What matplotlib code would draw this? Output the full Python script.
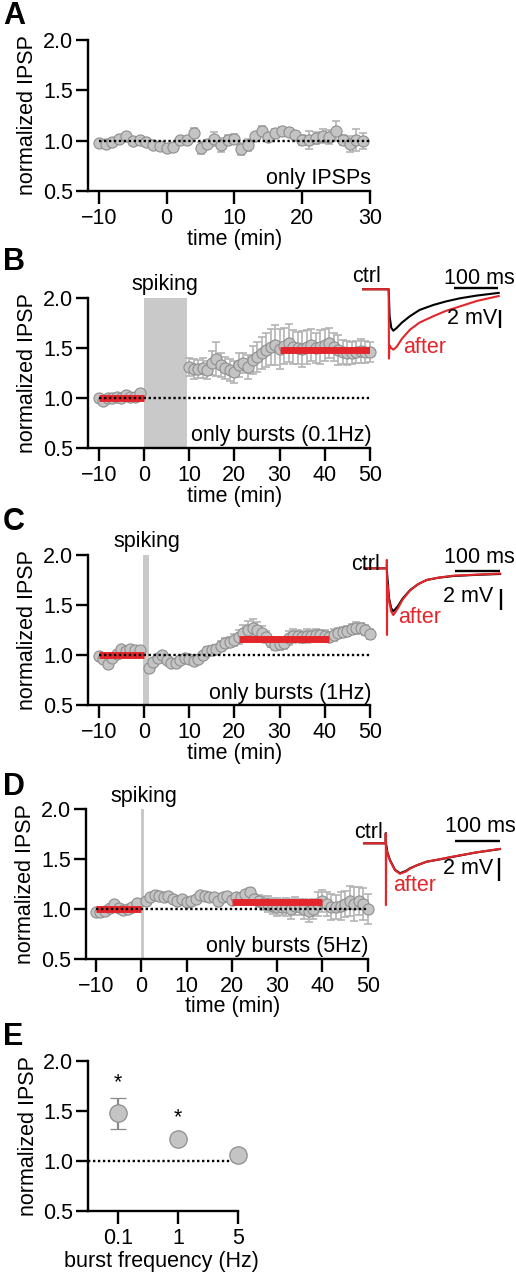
import numpy as np
import matplotlib
matplotlib.use("Agg")
import matplotlib.pyplot as plt
from matplotlib.ticker import FormatStrFormatter

plt.rcParams.update({
    'font.family': ['Liberation Sans', 'DejaVu Sans'],
    'font.size': 15.5,
    'axes.linewidth': 1.7,
    'xtick.major.width': 1.7,
    'ytick.major.width': 1.7,
    'xtick.major.size': 9.5,
    'ytick.major.size': 9,
    'xtick.major.pad': 3,
    'ytick.major.pad': 1.5,
})

# ---------------- data ----------------
# A: only IPSPs
A_TIME = np.arange(-10, 30)
A_MEAN = [0.98, 0.97, 0.99, 1.02, 1.05, 1.00, 1.01, 0.99, 0.96, 0.95,
          0.93, 0.94, 1.01, 1.01, 1.08, 0.93, 0.97, 1.02, 0.96, 1.01,
          1.02, 0.92, 0.96, 1.05, 1.10, 1.04, 1.08, 1.10, 1.09, 1.06,
          1.01, 1.01, 1.03, 1.05, 1.04, 1.10, 1.01, 0.97, 1.01, 1.00]
A_SEM = [0.01, 0.03, 0.02, 0.02, 0.02, 0.02, 0.02, 0.02, 0.03, 0.02,
         0.02, 0.02, 0.02, 0.03, 0.05, 0.06, 0.04, 0.07, 0.07, 0.05,
         0.05, 0.06, 0.06, 0.03, 0.05, 0.03, 0.04, 0.04, 0.04, 0.03,
         0.05, 0.09, 0.06, 0.07, 0.07, 0.10, 0.05, 0.08, 0.11, 0.08]

PRE_TIME = np.arange(-10, 0)

# B: bursts 0.1 Hz
B_PRE = [1.00, 0.97, 1.00, 1.00, 1.01, 1.00, 1.03, 1.01, 1.01, 1.05]
B_POST_TIME = np.arange(10, 51)
B_POST = [1.31, 1.29, 1.29, 1.30, 1.28, 1.35, 1.39, 1.33, 1.30, 1.28,
          1.26, 1.33, 1.35, 1.31, 1.38, 1.41, 1.45, 1.48, 1.51, 1.53,
          1.49, 1.52, 1.55, 1.51, 1.50, 1.49, 1.51, 1.53, 1.50, 1.51,
          1.53, 1.55, 1.51, 1.48, 1.46, 1.45, 1.45, 1.46, 1.47, 1.46, 1.46]
B_POST_SEM = [0.09, 0.10, 0.09, 0.10, 0.09, 0.12, 0.17, 0.12, 0.11, 0.11,
              0.11, 0.12, 0.10, 0.12, 0.14, 0.15, 0.16, 0.17, 0.18, 0.20,
              0.20, 0.18, 0.19, 0.17, 0.16, 0.18, 0.17, 0.16, 0.15, 0.17,
              0.16, 0.15, 0.14, 0.15, 0.12, 0.12, 0.11, 0.11, 0.12, 0.11, 0.10]
B_SPIKING = (0, 9.5)
B_MEANS = [(-10, 0, 1.0), (30, 50, 1.48)]

# C: bursts 1 Hz
C_PRE = [0.99, 0.96, 0.91, 0.97, 1.01, 1.06, 1.04, 1.06, 1.05, 1.05]
C_POST_TIME = np.arange(1, 51)
C_POST = [0.87, 0.93, 0.97, 1.00, 0.95, 0.92, 0.92, 0.95, 0.97, 0.96,
          0.94, 0.96, 1.00, 1.04, 1.05, 1.06, 1.09, 1.12, 1.13, 1.15,
          1.18, 1.22, 1.25, 1.27, 1.25, 1.22, 1.18, 1.13, 1.10, 1.11,
          1.12, 1.17, 1.19, 1.19, 1.18, 1.19, 1.19, 1.20, 1.20, 1.19,
          1.18, 1.20, 1.22, 1.23, 1.24, 1.26, 1.27, 1.27, 1.25, 1.21]
C_POST_SEM = [0.03, 0.03, 0.03, 0.03, 0.03, 0.03, 0.03, 0.03, 0.03, 0.03,
              0.03, 0.03, 0.03, 0.04, 0.04, 0.04, 0.05, 0.05, 0.05, 0.06,
              0.07, 0.08, 0.09, 0.09, 0.08, 0.07, 0.06, 0.05, 0.05, 0.06,
              0.06, 0.07, 0.07, 0.06, 0.06, 0.07, 0.06, 0.06, 0.05, 0.06,
              0.05, 0.06, 0.05, 0.05, 0.05, 0.05, 0.06, 0.05, 0.05, 0.05]
C_SPIKING = (-0.3, 1.1)
C_MEANS = [(-10, 0, 1.0), (21, 41, 1.16)]

# D: bursts 5 Hz
D_PRE = [0.97, 0.97, 0.98, 1.01, 1.05, 1.01, 0.99, 1.00, 1.02, 1.06]
D_POST_TIME = np.arange(1, 51)
D_POST = [1.08, 1.12, 1.14, 1.13, 1.12, 1.13, 1.10, 1.08, 1.10, 1.07,
          1.08, 1.10, 1.14, 1.13, 1.12, 1.12, 1.08, 1.12, 1.13, 1.09,
          1.12, 1.12, 1.15, 1.17, 1.10, 1.08, 1.06, 1.05, 1.03, 1.02,
          1.02, 1.02, 1.00, 1.03, 1.02, 1.00, 0.98, 1.00, 1.05, 1.08,
          1.05, 1.02, 1.02, 1.03, 1.05, 1.08, 1.05, 1.08, 1.05, 1.00]
D_POST_SEM = [0.02, 0.02, 0.02, 0.02, 0.02, 0.02, 0.02, 0.02, 0.02, 0.02,
              0.02, 0.02, 0.02, 0.02, 0.02, 0.02, 0.02, 0.02, 0.02, 0.03,
              0.03, 0.03, 0.03, 0.04, 0.05, 0.06, 0.07, 0.08, 0.08, 0.09,
              0.08, 0.09, 0.10, 0.09, 0.08, 0.10, 0.11, 0.10, 0.12, 0.11,
              0.12, 0.13, 0.12, 0.14, 0.13, 0.15, 0.17, 0.14, 0.16, 0.15]
D_SPIKING = (-0.15, 0.6)
D_MEANS = [(-10, 0, 1.0), (20, 40, 1.065)]

PRE_SEM = [0.02] * 10

# E: summary
E_FREQ = ['0.1', '1', '5']
E_MEAN = [1.48, 1.22, 1.06]
E_SEM = [0.155, 0.03, 0.02]
E_STARS = [(0, 1.78), (1, 1.43)]

# example traces (ms, mV)
B_CTRL_T = [-58, 0, 2, 6, 10.5, 18, 30, 48, 70, 101, 130, 162, 200, 250]
B_CTRL_V = [0, 0, -3.0, -4.3, -4.6, -4.3, -3.7, -3.0, -2.3, -1.75, -1.35, -1.0, -0.7, -0.4]
B_AFTER_T = [-58, 0, 0.6, 1.5, 5, 10.5, 18, 30, 48, 70, 101, 130, 162, 200, 250]
B_AFTER_V = [0, 0, -7.7, -6.2, -6.5, -6.7, -6.4, -5.5, -4.5, -3.7, -3.0, -2.4, -1.9, -1.3, -0.75]

C_CTRL_T = [-50, 0, 5, 10, 14.7, 25, 35, 52, 70, 89, 115, 148, 200, 252]
C_CTRL_V = [0, 0, -2.8, -3.8, -4.1, -3.6, -2.9, -2.07, -1.5, -1.11, -0.9, -0.73, -0.62, -0.54]
C_AFTER_T = [-50, 0, 0.3, 0.6, 1.2, 5, 10, 14.7, 25, 35, 52, 70, 89, 115, 148, 200, 252]
C_AFTER_V = [0, 0, 0.8, -6.35, -1.5, -3.0, -4.1, -4.45, -3.8, -3.0, -2.1, -1.5, -1.1, -0.88, -0.7, -0.6, -0.5]

D_CTRL_T = [-48, 0, 0.3, 0.6, 4, 9.5, 20.7, 31.8, 45, 54, 70, 91, 120, 150, 200, 254]
D_CTRL_V = [0, 0, 0.9, 0, -0.8, -1.45, -2.3, -2.6, -2.4, -2.17, -1.9, -1.6, -1.4, -1.17, -0.8, -0.5]
D_AFTER_T = [-48, 0, 0.3, 0.6, 1.2, 4, 9.5, 20.7, 31.8, 45, 54, 70, 91, 120, 150, 200, 254]
D_AFTER_V = [0, 0, 0.87, -5.37, -0.5, -0.9, -1.5, -2.35, -2.65, -2.45, -2.2, -1.9, -1.6, -1.38, -1.15, -0.8, -0.48]

# ---------------- style ----------------
W, H = 516, 1280
RED = '#e3262b'
FACE = '#c4c4c4'
EDGE = '#8e8e8e'
ERR = '#b4b4b4'
SPIKE = '#c9c9c9'


def px_axes(fig, x0, y0, x1, y1):
    return fig.add_axes([x0 / W, 1 - y1 / H, (x1 - x0) / W, (y1 - y0) / H])


def base_axes(ax):
    for s in ('top', 'right'):
        ax.spines[s].set_visible(False)
    ax.set_ylim(0.5, 2.0)
    ax.set_yticks([0.5, 1.0, 1.5, 2.0])
    ax.yaxis.set_major_formatter(FormatStrFormatter('%.1f'))
    ax.set_ylabel('normalized IPSP')


def timecourse(ax, segments, xlim, xticks, note, spiking=None, means=(), spike_x=None):
    base_axes(ax)
    ax.set_xlim(*xlim)
    ax.set_xticks(xticks)
    if spiking is not None:
        ax.axvspan(spiking[0], spiking[1], ymin=0, ymax=1, color=SPIKE, lw=0, zorder=1)
        ax.text(spike_x, 2.13, 'spiking', ha='center', va='center')
    for t, y, e in segments:
        ax.errorbar(t, y, yerr=e, fmt='none', ecolor=ERR, elinewidth=1.2,
                    capsize=2.8, capthick=1.2, zorder=2, clip_on=False)
        ax.plot(t, y, 'o', ms=8, mfc=FACE, mec=EDGE, mew=0.8, zorder=3, clip_on=False)
    for x0, x1, v in means:
        ax.plot([x0, x1], [v, v], color=RED, lw=5, solid_capstyle='butt', zorder=4)
    ax.plot([xticks[0], xticks[-1]], [1, 1], color='k', lw=1.7,
            ls=(0, (1, 1.1)), zorder=5)
    ax.text(xticks[-1] + (xlim[1] - xlim[0]) * 0.004, 0.62, note, ha='right', va='center')
    ax.set_xlabel('time (min)')
    ax.xaxis.set_label_coords(0.52, -0.25)
    ax.yaxis.set_label_coords(-0.176, 0.5)


def trace_inset(fig, box, xlim, ylim, ctrl, after, texts):
    ax = px_axes(fig, *box)
    ax.set_xlim(*xlim)
    ax.set_ylim(*ylim)
    ax.axis('off')
    ax.plot(ctrl[0], ctrl[1], color='k', lw=1.5, clip_on=False)
    ax.plot(after[0], after[1], color=RED, lw=1.5, clip_on=False)
    (ct, cv), (at, av), (st, sv), (bar_t, bar_v), (mv_t, mv_v), (mt, mv) = texts
    ax.text(ct, cv, 'ctrl', ha='center', va='center')
    ax.text(at, av, 'after', ha='left', va='center', color=RED)
    ax.text(st, sv, '100 ms', ha='center', va='center')
    ax.plot([bar_t, bar_t + 100], [bar_v, bar_v], color='k', lw=1.7,
            solid_capstyle='butt', clip_on=False)
    ax.plot([mv_t, mv_t], [mv_v, mv_v - 2], color='k', lw=1.7,
            solid_capstyle='butt', clip_on=False)
    ax.text(mt, mv, '2 mV', ha='right', va='center')


fig = plt.figure(figsize=(W / 100, H / 100), dpi=100)

# A
ax = px_axes(fig, 88, 40, 370, 191)
timecourse(ax, [(A_TIME, A_MEAN, A_SEM)], (-11.6, 30), [-10, 0, 10, 20, 30], 'only IPSPs')

# B
ax = px_axes(fig, 88, 297.7, 370, 448)
timecourse(ax, [(PRE_TIME, B_PRE, PRE_SEM), (B_POST_TIME, B_POST, B_POST_SEM)],
           (-12.4, 50), [-10, 0, 10, 20, 30, 40, 50], 'only bursts (0.1Hz)',
           spiking=B_SPIKING, means=B_MEANS, spike_x=4.6)
trace_inset(fig, (345, 262, 516, 365), (-99.3, 289.3), (-8.41, 3.03),
            (B_CTRL_T, B_CTRL_V), (B_AFTER_T, B_AFTER_V),
            [(-51, 1.4), (32, -6.5), (207, 1.15), (149, 0.1), (254, -2.3), (246, -3.2)])

# C
ax = px_axes(fig, 88, 555, 370, 705)
timecourse(ax, [(PRE_TIME, C_PRE, PRE_SEM), (C_POST_TIME, C_POST, C_POST_SEM)],
           (-12.4, 50), [-10, 0, 10, 20, 30, 40, 50], 'only bursts (1Hz)',
           spiking=C_SPIKING, means=C_MEANS, spike_x=0.74)
trace_inset(fig, (345, 540, 516, 640), (-92.7, 287.3), (-6.83, 2.70),
            (C_CTRL_T, C_CTRL_V), (C_AFTER_T, C_AFTER_V),
            [(-46, 0.41), (25, -4.73), (207, 1.05), (152, -0.23), (253, -1.97), (236, -2.73)])

# D
ax = px_axes(fig, 86, 809, 367.7, 958.7)
timecourse(ax, [(PRE_TIME, D_PRE, PRE_SEM), (D_POST_TIME, D_POST, D_POST_SEM)],
           (-12.2, 50), [-10, 0, 10, 20, 30, 40, 50], 'only bursts (5Hz)',
           spiking=D_SPIKING, means=D_MEANS, spike_x=0.6)
trace_inset(fig, (345, 810, 516, 910), (-90.4, 289.6), (-5.8, 2.9),
            (D_CTRL_T, D_CTRL_V), (D_AFTER_T, D_AFTER_V),
            [(-39, 0.94), (16, -3.63), (210, 1.45), (154, 0.23), (252, -1.28), (238, -2.23)])

# E
ax = px_axes(fig, 88, 1061, 238, 1211)
base_axes(ax)
ax.set_xlim(-0.5, 2)
xs = np.arange(len(E_FREQ))
ax.set_xticks(xs)
ax.set_xticklabels(E_FREQ)
ax.plot([-0.5, 2], [1, 1], color='k', lw=1.7, ls=(0, (1, 1.1)), zorder=1, clip_on=False)
ax.errorbar(xs, E_MEAN, yerr=E_SEM, fmt='o', ms=12.5, mfc=FACE, mec=EDGE, mew=0.9,
            ecolor='#8a8a8a', elinewidth=1.6, capsize=6, capthick=1.6,
            zorder=3, clip_on=False)
for sx, sy in E_STARS:
    ax.text(sx, sy, '*', ha='center', va='center', fontsize=15.5)
ax.set_xlabel('burst frequency (Hz)')
ax.xaxis.set_label_coords(0.49, -0.27)
ax.yaxis.set_label_coords(-0.327, 0.5)

for letter, y in zip('ABCDE', [16, 262, 522, 787, 1037]):
    fig.text(3 / W, 1 - y / H, letter, fontsize=22, fontweight='bold',
             ha='left', va='center')

fig.savefig('out.png', dpi=100)
